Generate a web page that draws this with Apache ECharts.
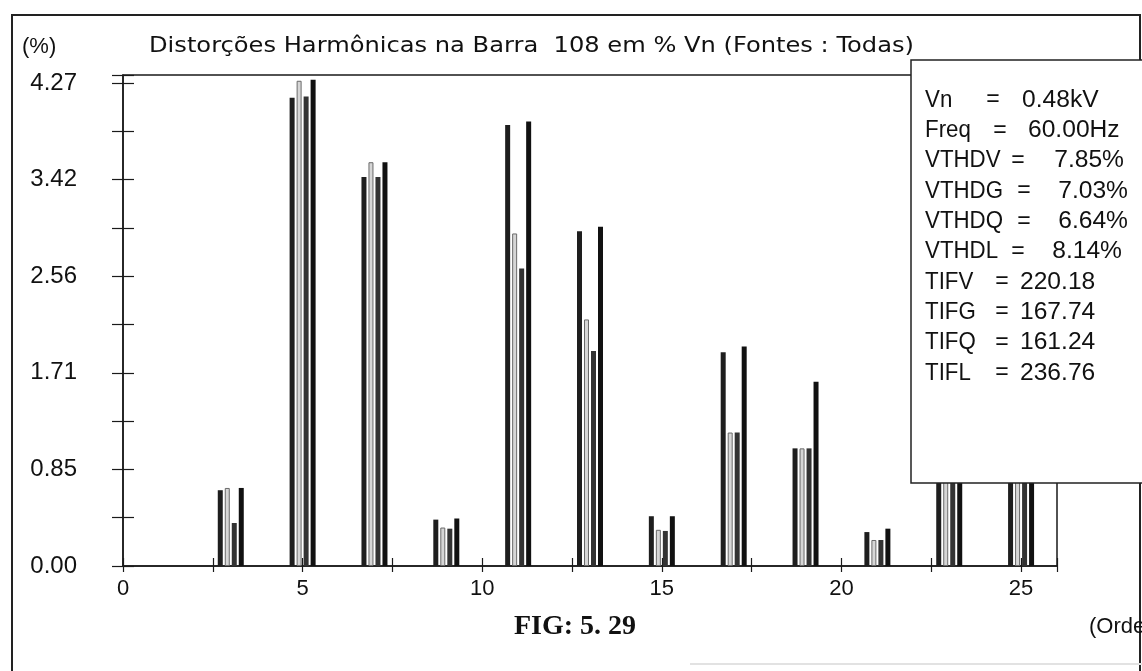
<!DOCTYPE html>
<html><head><meta charset="utf-8">
<script src="https://cdn.jsdelivr.net/npm/echarts@6/dist/echarts.min.js"></script>
<style>html,body{margin:0;padding:0;background:#fff}#c{width:1142px;height:671px}</style>
</head><body><div id="c"></div>
<script>
// ---- data ----
const orders  = [3, 5, 7, 9, 11, 13, 15, 17, 19, 21, 23, 25];
const seriesV = [0.67, 4.14, 3.44, 0.41, 3.90, 2.96, 0.44, 1.89, 1.04, 0.30, 1.30, 1.20];
const seriesG = [0.69, 4.29, 3.57, 0.34, 2.94, 2.18, 0.32, 1.18, 1.04, 0.23, 1.20, 1.10];
const seriesQ = [0.38, 4.15, 3.44, 0.33, 2.63, 1.90, 0.31, 1.18, 1.04, 0.23, 1.20, 1.10];
const seriesL = [0.69, 4.30, 3.57, 0.42, 3.93, 3.00, 0.44, 1.94, 1.63, 0.33, 1.40, 1.30];
const yTickLabels = ['0.00', '0.85', '1.71', '2.56', '3.42', '4.27'];
const xTickLabels = ['0', '5', '10', '15', '20', '25'];
const infoNames  = ['Vn', 'Freq', 'VTHDV', 'VTHDG', 'VTHDQ', 'VTHDL', 'TIFV', 'TIFG', 'TIFQ', 'TIFL'];
const infoValues = ['0.48kV', '60.00Hz', '7.85%', '7.03%', '6.64%', '8.14%', '220.18', '167.74', '161.24', '236.76'];
const titleText = 'Distorções Harmônicas na Barra  108 em % Vn (Fontes : Todas)';

// ---- layout constants ----
const yStep = 0.427, yMax = 4.341, xMax = 26;
const eqX  = [993, 1000, 1018, 1024, 1024, 1018, 1002, 1002, 1002, 1002];
const valX = [1022, 1028, 1124, 1128, 1128, 1122, 1020, 1020, 1020, 1020];
const valAlign = ['left','left','right','right','right','right','left','left','left','left'];

const chart = echarts.init(document.getElementById('c'));
const pairs = arr => orders.map((o, i) => [o, arr[i]]);
const FONT = 'Liberation Sans';

function barSeries(name, arr, color, border) {
  return {
    name, type: 'bar', data: pairs(arr), barWidth: 5, barGap: '40%',
    xAxisIndex: 0, yAxisIndex: 0, silent: true, z: 2,
    itemStyle: { color, borderColor: border, borderWidth: border ? 1 : 0 }
  };
}

const infoGraphics = [];
infoNames.forEach((n, i) => {
  const y = 100 + i * 30.3;
  infoGraphics.push({ type: 'text', x: 925, y: y, z: 110, scaleX: 0.97, scaleY: 1.08,
    style: { text: n, font: '23px ' + FONT, fill: '#111', verticalAlign: 'middle' } });
  infoGraphics.push({ type: 'text', x: eqX[i], y: y, z: 110,
    style: { text: '=', font: '23px ' + FONT, fill: '#111', align: 'center', verticalAlign: 'middle' } });
  infoGraphics.push({ type: 'text', x: valX[i], y: y, z: 110, scaleX: 1.07, scaleY: 1.08,
    style: { text: infoValues[i], font: '23px ' + FONT, fill: '#111', align: valAlign[i], verticalAlign: 'middle' } });
});

const axisCol = '#1a1a1a';
chart.setOption({
  animation: false,
  backgroundColor: '#fff',
  grid: { left: 123, top: 75, width: 934, height: 491, show: true, borderColor: axisCol, borderWidth: 1.5, backgroundColor: 'transparent' },
  xAxis: [
    { type: 'value', min: 0, max: xMax, interval: 2.5,
      axisLine: { lineStyle: { color: axisCol, width: 1.5 } },
      axisTick: { show: true, length: 6, lineStyle: { color: axisCol, width: 1.2 } },
      splitLine: { show: false },
      axisLabel: { margin: 12, color: '#111', fontFamily: FONT, fontSize: 22,
        formatter: v => (Math.abs(v % 5) < 1e-6 ? xTickLabels[Math.round(v / 5)] : '') } },
    { type: 'value', min: 0, max: xMax, interval: 2.5, position: 'bottom',
      axisLine: { show: false }, axisLabel: { show: false }, splitLine: { show: false },
      axisTick: { show: true, inside: true, length: 8, lineStyle: { color: axisCol, width: 1.2 } } }
  ],
  yAxis: [
    { type: 'value', min: 0, max: yMax, interval: yStep,
      axisLine: { show: true, lineStyle: { color: axisCol, width: 1.5 } },
      axisTick: { show: true, length: 11, lineStyle: { color: axisCol, width: 1.2 } },
      splitLine: { show: false },
      axisLabel: { margin: 46, color: '#111', fontFamily: FONT, fontSize: 24,
        formatter: v => {
          const k = v / (2 * yStep);
          if (Math.abs(k - Math.round(k)) < 1e-6 && v < 4.3) return yTickLabels[Math.round(k)];
          return '';
        } } },
    { type: 'value', min: 0, max: yMax, interval: yStep, position: 'left',
      axisLine: { show: false }, axisLabel: { show: false }, splitLine: { show: false },
      axisTick: { show: true, inside: true, length: 11, lineStyle: { color: axisCol, width: 1.2 } } }
  ],
  series: [
    barSeries('V', seriesV, '#1e1e1e'),
    barSeries('G', seriesG, '#d6d6d6', '#6a6a6a'),
    barSeries('Q', seriesQ, '#333333'),
    barSeries('L', seriesL, '#111111')
  ],
  graphic: [
    { type: 'rect', shape: { x: 12, y: 15, width: 1128, height: 700 }, z: 1,
      style: { fill: 'none', stroke: '#222', lineWidth: 2 } },
    { type: 'text', x: 149, y: 47, z: 100, scaleX: 1.15,
      style: { text: titleText, font: '21px DejaVu Sans', fill: '#111', verticalAlign: 'middle' } },
    { type: 'text', x: 22, y: 47, z: 100,
      style: { text: '(%)', font: '22px ' + FONT, fill: '#111', verticalAlign: 'middle' } },
    { type: 'rect', shape: { x: 911, y: 60, width: 260, height: 423 }, z: 100,
      style: { fill: '#fff', stroke: '#222', lineWidth: 1.5 } },
    ...infoGraphics,
    { type: 'text', x: 575, y: 627, z: 100,
      style: { text: 'FIG: 5. 29', font: 'bold 28px Liberation Serif', fill: '#111', align: 'center', verticalAlign: 'middle' } },
    { type: 'text', x: 1089, y: 627, z: 100,
      style: { text: '(Orde', font: '22px ' + FONT, fill: '#111', verticalAlign: 'middle' } },
    { type: 'line', shape: { x1: 690, y1: 664, x2: 1142, y2: 664 }, z: 1,
      style: { stroke: '#e2e2e2', lineWidth: 2 } }
  ]
});
</script></body></html>
